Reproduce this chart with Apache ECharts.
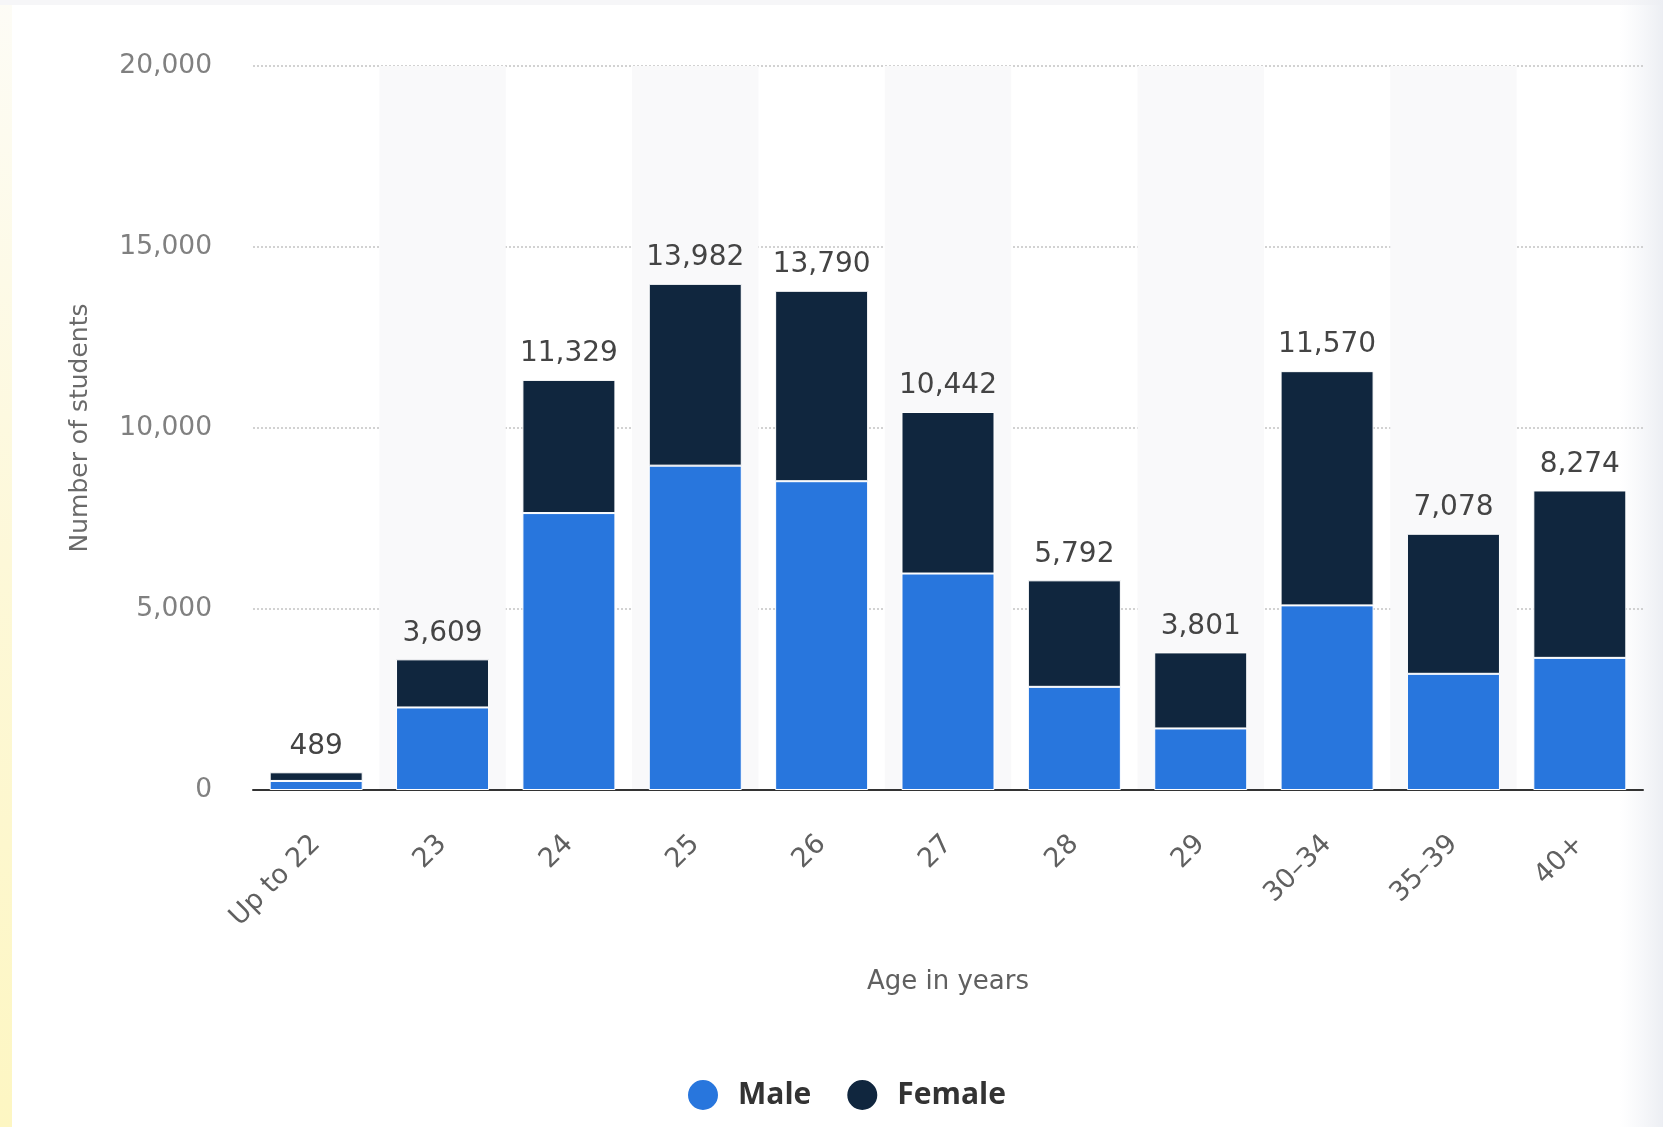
<!DOCTYPE html>
<html>
<head>
<meta charset="utf-8">
<script src="https://cdn.jsdelivr.net/npm/echarts@6/dist/echarts.min.js"></script>
<style>
html,body{margin:0;padding:0;background:#fff;}
#chart{width:1663px;height:1127px;}
</style>
</head>
<body>
<div id="chart"></div>
<script>
const categories = ['Up to 22', '23', '24', '25', '26', '27', '28', '29', '30–34', '35–39', '40+'];
const male   = [250, 2280, 7650, 8960, 8530, 5980, 2850, 1700, 5100, 3210, 3650];
const female = [239, 1329, 3679, 5022, 5260, 4462, 2942, 2101, 6470, 3868, 4624];
const yTicks = [0, 5000, 10000, 15000, 20000];

const FONT = 'DejaVu Sans';
const fmt = v => v.toLocaleString('en-US');

const chart = echarts.init(document.getElementById('chart'));
chart.setOption({
  backgroundColor: '#ffffff',
  animation: false,
  textStyle: { fontFamily: FONT },
  graphic: [
    { type: 'rect', left: 0, top: 0, shape: { width: 12, height: 1127 }, silent: true,
      style: { fill: new echarts.graphic.LinearGradient(0, 0, 0, 1, [
        { offset: 0, color: '#fdfcf6' }, { offset: 0.5, color: '#fdf8d8' }, { offset: 1, color: '#fdf6c2' }]) } },
    { type: 'rect', left: 0, top: 0, shape: { width: 1663, height: 5 }, silent: true,
      style: { fill: '#f6f6f8' } },
    { type: 'rect', left: 1620, top: 0, shape: { width: 43, height: 1127 }, silent: true,
      style: { fill: new echarts.graphic.LinearGradient(0, 0, 1, 0, [
        { offset: 0, color: 'rgba(240,242,246,0)' }, { offset: 1, color: 'rgba(236,238,243,1)' }]) } }
  ],
  grid: { left: 253, right: 20, top: 66, bottom: 337, containLabel: false },
  legend: {
    left: 681, top: 1073,
    itemWidth: 32, itemHeight: 32, itemGap: 34,
    icon: 'circle',
    textStyle: { fontFamily: 'Open Sans', fontSize: 30, fontWeight: 'bold', color: '#333', padding: [0, 0, 0, 14] },
    data: ['Male', 'Female']
  },
  xAxis: {
    type: 'category',
    data: categories,
    name: 'Age in years',
    nameLocation: 'middle',
    nameGap: 179,
    nameTextStyle: { fontFamily: FONT, fontSize: 26, color: '#606060' },
    axisTick: { show: false },
    axisLine: { lineStyle: { color: '#333', width: 2 } },
    axisLabel: { rotate: 45, margin: 50, fontFamily: FONT, fontSize: 27, color: '#606060', interval: 0 },
    splitArea: { show: true, interval: 0, areaStyle: { color: ['rgba(255,255,255,0)', '#f9f9fa'] } }
  },
  yAxis: {
    type: 'value',
    min: yTicks[0], max: yTicks[yTicks.length - 1], interval: 5000,
    name: 'Number of students',
    nameLocation: 'middle',
    nameGap: 160,
    nameTextStyle: { fontFamily: FONT, fontSize: 25, color: '#6a6a6a' },
    axisLine: { show: false },
    axisTick: { show: false },
    axisLabel: { margin: 41, fontFamily: FONT, fontSize: 26.5, color: '#808080', formatter: v => fmt(v) },
    splitLine: { lineStyle: { color: '#c4c4c4', type: [2, 2], width: 1.5 } }
  },
  series: [
    {
      name: 'Male', type: 'bar', stack: 'total', data: male, barWidth: '73.6%',
      itemStyle: { color: '#2876dd', borderColor: '#ffffff', borderWidth: 1 }
    },
    {
      name: 'Female', type: 'bar', stack: 'total', data: female, barWidth: '73.6%',
      itemStyle: { color: '#10263e', borderColor: '#ffffff', borderWidth: 1 },
      label: {
        show: true, position: 'top', distance: 12,
        fontFamily: FONT, fontSize: 28, color: '#444',
        formatter: p => fmt(male[p.dataIndex] + female[p.dataIndex])
      }
    }
  ]
});
</script>
</body>
</html>
